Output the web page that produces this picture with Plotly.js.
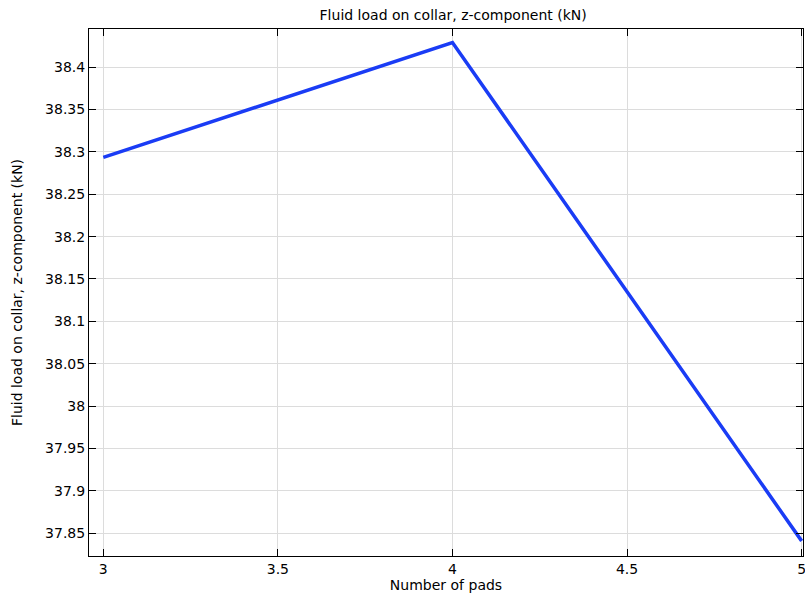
<!DOCTYPE html>
<html><head><meta charset="utf-8">
<script src="https://cdn.plot.ly/plotly-3.0.1.min.js"></script>
<style>body{margin:0;background:#fff}#chart{width:805px;height:597px}</style>
</head><body><div id="chart"></div>
<script>
const pads = [3, 4, 5];
const loadZ = [38.2934, 38.429, 37.841];
const xTicks = [3, 3.5, 4, 4.5, 5];
const xTickText = ['3', '3.5', '4', '4.5', '5'];
const yTicks = [37.85, 37.9, 37.95, 38, 38.05, 38.1, 38.15, 38.2, 38.25, 38.3, 38.35, 38.4];
const yTickText = ['37.85', '37.9', '37.95', '38', '38.05', '38.1', '38.15', '38.2', '38.25', '38.3', '38.35', '38.4'];

const font = {family: 'DejaVu Sans, sans-serif', size: 14, color: '#000'};
Plotly.newPlot('chart', [{
  x: pads, y: loadZ, type: 'scatter', mode: 'lines',
  line: {color: '#1a3cf5', width: 3.5}
}], {
  width: 805, height: 597,
  margin: {l: 89, r: 2, t: 29, b: 41},
  paper_bgcolor: '#fff', plot_bgcolor: '#fff',
  font: font,
  showlegend: false,
  title: {text: 'Fluid load on collar, z-component (kN)', font: {family: font.family, size: 14}, xref: 'paper', x: 0.51, xanchor: 'center', y: 0.974, yanchor: 'middle'},
  xaxis: {
    range: [2.959, 5.004], tickvals: xTicks, ticktext: xTickText,
    ticks: 'inside', ticklen: 7, tickcolor: '#000', mirror: 'ticks',
    showline: true, linecolor: '#000', linewidth: 1,
    showgrid: true, gridcolor: '#dcdcdc', gridwidth: 1, zeroline: false,
    tickfont: font, ticklabeloverflow: 'allow',
    title: {text: 'Number of pads', font: font, standoff: 4}
  },
  yaxis: {
    range: [37.8232, 38.4449], tickvals: yTicks, ticktext: yTickText,
    ticks: 'inside', ticklen: 7, tickcolor: '#000', mirror: 'ticks',
    showline: true, linecolor: '#000', linewidth: 1,
    showgrid: true, gridcolor: '#dcdcdc', gridwidth: 1, zeroline: false,
    tickfont: font,
    title: {text: 'Fluid load on collar, z-component (kN)', font: font, standoff: 19}
  }
}, {staticPlot: true, displayModeBar: false});
</script></body></html>
